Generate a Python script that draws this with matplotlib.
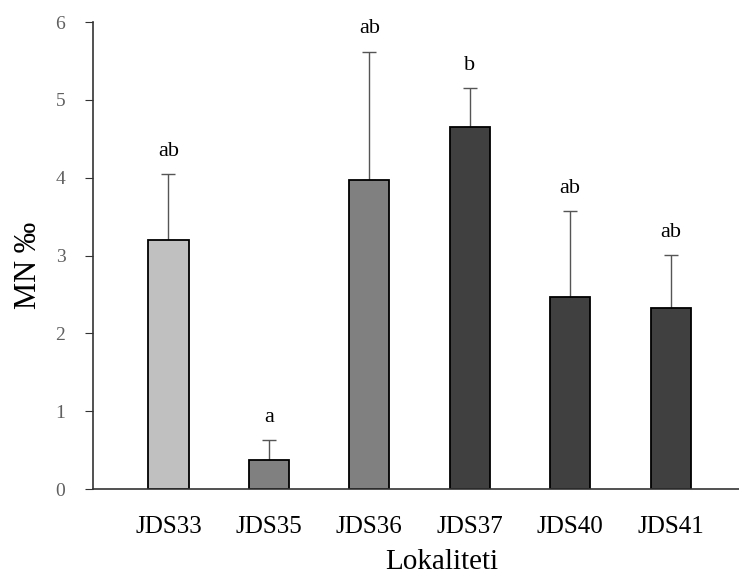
import numpy as np
import matplotlib.pyplot as plt

plt.rcParams['font.family'] = ['Liberation Serif', 'DejaVu Serif']

lokaliteti = ['JDS33', 'JDS35', 'JDS36', 'JDS37', 'JDS40', 'JDS41']
mn = [3.2, 0.38, 3.97, 4.65, 2.47, 2.33]
greska = [0.85, 0.25, 1.65, 0.5, 1.1, 0.68]
slova = ['ab', 'a', 'ab', 'b', 'ab', 'ab']
boje = ['#c0c0c0', '#808080', '#808080', '#404040', '#404040', '#404040']

fig = plt.figure(figsize=(7.39, 5.81), dpi=100)
ax = fig.add_axes([0.126, 0.158, 0.874, 0.804])

x = np.arange(len(lokaliteti))
ax.bar(x, mn, width=0.4, color=boje, edgecolor='black', linewidth=1.3, zorder=2)
ax.errorbar(x, mn, yerr=[np.zeros(len(mn)), greska], fmt='none',
            ecolor='#555555', elinewidth=1.0, capsize=5, capthick=1.0, zorder=1)

for xi, m, g, s in zip(x, mn, greska, slova):
    ax.text(xi, m + g + 0.17, s, ha='center', va='bottom', fontsize=16)

ax.set_xlim(-0.75, 5.68)
ax.set_ylim(0, 6)
ax.set_yticks(range(7))
ax.set_xticks(x)
ax.set_xticklabels(lokaliteti, fontsize=18)
ax.tick_params(axis='x', length=0, pad=19)
ax.tick_params(axis='y', length=6, direction='out', labelsize=14,
               labelcolor='#606060', pad=14, color='#333333')

for side in ['top', 'right']:
    ax.spines[side].set_visible(False)
for side in ['left', 'bottom']:
    ax.spines[side].set_color('#333333')
    ax.spines[side].set_linewidth(1.2)

ax.set_ylabel('MN ‰', fontsize=22)
ax.yaxis.set_label_coords(-0.078, 0.48)
ax.set_xlabel('Lokaliteti', fontsize=21)
ax.xaxis.set_label_coords(0.54, -0.128)

fig.savefig('out.png', dpi=100)
